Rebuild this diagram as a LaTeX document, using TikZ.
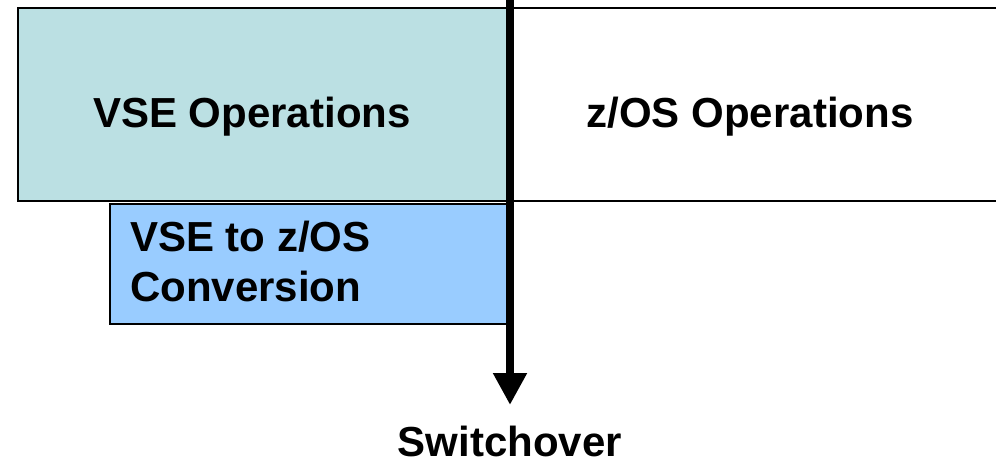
\documentclass[tikz,border=0pt]{standalone}
\usepackage{fontspec}
\setmainfont{Liberation Sans}
\usepackage{xcolor}
\usetikzlibrary{arrows.meta}
\definecolor{opsteal}{RGB}{187,224,227}
\definecolor{convblue}{RGB}{153,204,255}

\begin{document}
\begin{tikzpicture}[x=1pt,y=-1pt,
    box/.style={draw=black,line width=2.5pt},
    label/.style={inner sep=0pt,font=\fontsize{42}{50}\selectfont\bfseries},
    switchline/.style={line width=8pt,-{Triangle[width=32pt,length=32pt]}}]
            \clip (0,0) rectangle (996,470);
            \draw[box,fill=opsteal](18,8) rectangle (508,201);
            \draw[box](510,8) rectangle (1010,201);
            \draw[box,fill=convblue](110,204) rectangle (511,324);
            \node[label,anchor=base] (vseops) at (252,128){VSE Operations};
            \node[label,anchor=base] (zosops) at (750,128){z/OS Operations};
            \node[label,anchor=north west,align=left] (conv) at (130,221){VSE to z/OS\\Conversion};
            \coordinate (start) at (510,-5);
            \coordinate (tip) at (510,405);
            \draw[switchline](start) -- (tip);
            \node[label,anchor=base] (switch) at (510,456){Switchover};
        \end{tikzpicture}
\end{document}
